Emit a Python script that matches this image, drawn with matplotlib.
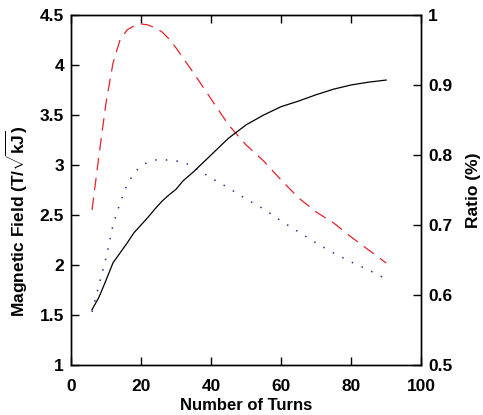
import matplotlib
matplotlib.use('Agg')
import matplotlib.pyplot as plt

plt.rcParams['font.family'] = 'Liberation Sans'
plt.rcParams['font.weight'] = 'bold'
plt.rcParams['mathtext.fontset'] = 'custom'
plt.rcParams['mathtext.rm'] = 'Liberation Sans:bold'
plt.rcParams['mathtext.bf'] = 'Liberation Sans:bold'

# number of turns
turns = [6, 8, 10, 12, 14, 16, 18, 20, 22, 24, 26, 28, 30, 32, 35,
         40, 45, 50, 55, 60, 65, 70, 75, 80, 85, 90]

# magnetic field, red dashed (left axis)
field_red = [2.55, 3.10, 3.62, 4.02, 4.25, 4.35, 4.39, 4.41, 4.40, 4.37, 4.33, 4.26, 4.17,
             4.07, 3.92, 3.66, 3.40, 3.20, 3.04, 2.85, 2.67, 2.53, 2.42, 2.28, 2.15, 2.02]

# magnetic field, blue dotted (left axis)
field_blue = [1.53, 1.80, 2.07, 2.40, 2.62, 2.80, 2.92, 2.99, 3.03, 3.05, 3.05, 3.05, 3.04,
              3.03, 2.98, 2.87, 2.77, 2.66, 2.56, 2.44, 2.33, 2.22, 2.12, 2.03, 1.95, 1.86]

# ratio, black solid (right axis)
ratio = [0.579, 0.597, 0.621, 0.646, 0.660, 0.674, 0.689, 0.700, 0.711, 0.723, 0.734, 0.743,
         0.751, 0.763, 0.776, 0.800, 0.824, 0.843, 0.857, 0.869, 0.877, 0.886, 0.894, 0.900,
         0.904, 0.907]

fig = plt.figure(figsize=(4.83, 4.15), dpi=100)
ax = fig.add_axes([0.147, 0.1205, 0.725, 0.8435])
ax2 = ax.twinx()

ax.plot(turns, field_red, color='#e8202a', lw=0.9, dashes=(10, 6))
ax.plot(turns, field_blue, color='#2b2f9b', lw=1.1, dashes=(1, 6))
ax2.plot(turns, ratio, color='black', lw=0.9)

ax.set_xlim(0, 100)
ax.set_ylim(1, 4.5)
ax2.set_ylim(0.5, 1)
ax.set_xticks([0, 20, 40, 60, 80, 100])
ax.set_yticks([1, 1.5, 2, 2.5, 3, 3.5, 4, 4.5])
ax.set_yticklabels(['1', '1.5', '2', '2.5', '3', '3.5', '4', '4.5'])
ax2.set_yticks([0.5, 0.6, 0.7, 0.8, 0.9, 1])
ax2.set_yticklabels(['0.5', '0.6', '0.7', '0.8', '0.9', '1'])

ax.tick_params(axis='x', direction='in', top=True, labelsize=12.5, length=6, width=1, pad=10)
ax.tick_params(axis='y', direction='in', labelsize=12.5, length=6, width=1, pad=5)
ax2.tick_params(axis='y', direction='in', labelsize=12.5, length=6, width=1, pad=5)

for a in (ax, ax2):
    for s in a.spines.values():
        s.set_linewidth(1)

ax.set_xlabel('Number of Turns', fontsize=12, fontweight='bold', labelpad=3)
ax.set_ylabel(r'Magnetic Field (T/$\sqrt{\mathrm{kJ}}$)', fontsize=12.5, fontweight='bold')
ax.yaxis.set_label_coords(-0.118, 0.41)
ax2.set_ylabel('Ratio (%)', fontsize=12.5, fontweight='bold', labelpad=10)

fig.savefig('out.png', dpi=100)
